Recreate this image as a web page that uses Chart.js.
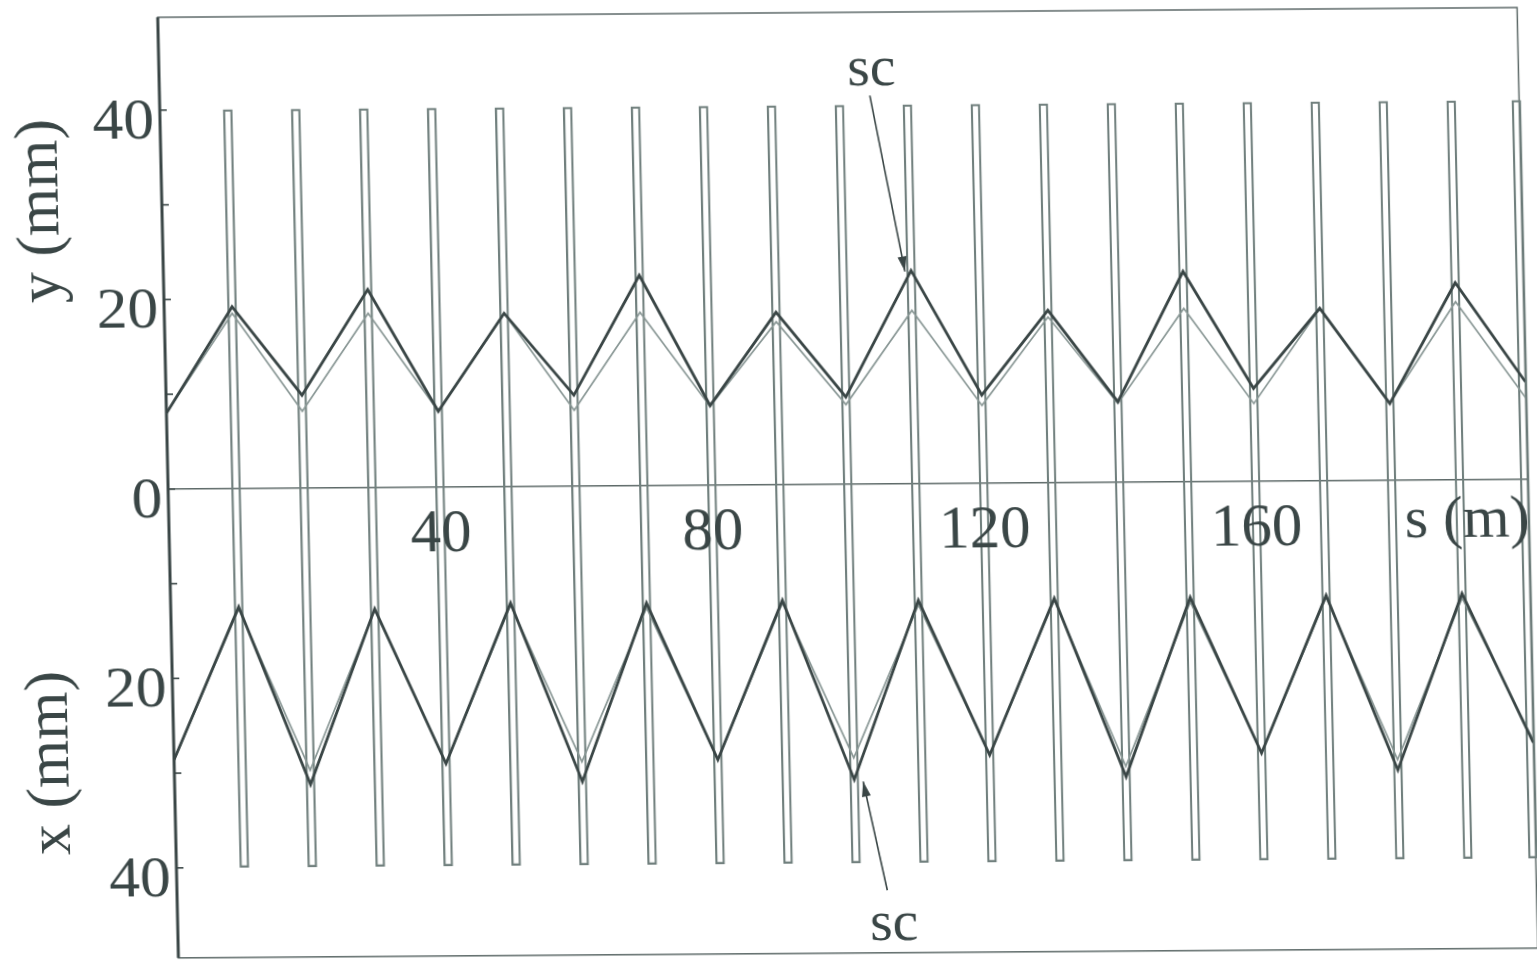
<!DOCTYPE html>
<html>
<head>
<meta charset="utf-8">
<title>FODO envelope</title>
<script src="https://cdn.jsdelivr.net/npm/chart.js@4.4.1/dist/chart.umd.min.js"></script>
<style>
  html, body { margin: 0; padding: 0; background: #fff; overflow: hidden; }
  /* the scanned figure is slightly skewed, mimic it */
  #env { display: block; transform-origin: 768.5px 480px; transform: matrix(1, -0.0072, 0.022, 1, 0, 0); }
</style>
</head>
<body>
<canvas id="env" width="1537" height="960"></canvas>
<script>
const INK       = '#3a4646';
const INK_LIGHT = '#8a9896';
const QUAD      = '#71807e';
const FRAME     = '#5e6a69';
const SERIF     = '"Liberation Serif", "DejaVu Serif", serif';

// s (m) of the envelope nodes (cusps at the quadrupoles)
const sNodes  = [0, 10, 20, 30, 40, 50, 60, 70, 80, 90, 100, 110, 120, 130, 140, 150, 160, 170, 180, 190, 200];
// quadrupole centres (m) and their drawn extent (mm)
const quadPos  = [10, 20, 30, 40, 50, 60, 70, 80, 90, 100, 110, 120, 130, 140, 150, 160, 170, 180, 190, 199.6];
const quadSpan = [-40, 40];

// vertical envelope y (mm), with and without space charge
const ySc   = [8.0, 19.2, 9.8, 20.9, 8.0, 18.3, 9.6, 22.2, 8.4, 18.2, 9.2, 22.5, 9.3, 18.2, 8.5, 22.2, 9.8, 18.2, 8.1, 20.8, 10.3];
const yNoSc = [8.0, 18.5, 8.1, 18.4, 8.0, 18.3, 8.0, 18.3, 8.3, 17.2, 8.4, 18.3, 8.2, 17.5, 8.3, 18.3, 8.2, 18.2, 8.1, 18.8, 8.6];
// horizontal envelope x (mm), drawn downwards
const xSc   = [28.6, 12.5, 31.3, 12.8, 29.2, 12.3, 31.2, 12.4, 29.0, 12.2, 31.2, 12.3, 28.7, 12.2, 31.1, 12.2, 28.7, 12.1, 30.6, 12.0, 27.8];
const xNoSc = [28.6, 12.7, 29.8, 12.9, 29.2, 12.5, 29.1, 12.9, 29.0, 12.5, 28.9, 12.8, 28.7, 12.4, 30.0, 12.7, 28.7, 12.3, 29.5, 12.5, 27.5];

// axis ticks
const yTickMarks  = [40, 30, 20, 10, 0, -10, -20, -30, -40];
const yTickLabels = [40, 20, 0, -20, -40];
const sTickLabels = [40, 80, 120, 160];

const pts = (vals, sign) => vals.map((v, i) => ({ x: sNodes[i], y: sign * v }));

function line(ctx, x1, y1, x2, y2) {
  ctx.beginPath(); ctx.moveTo(x1, y1); ctx.lineTo(x2, y2); ctx.stroke();
}

function arrow(ctx, x1, y1, x2, y2) {
  line(ctx, x1, y1, x2, y2);
  const ang = Math.atan2(y2 - y1, x2 - x1), len = 15, w = 4.5;
  ctx.save();
  ctx.translate(x2, y2); ctx.rotate(ang);
  ctx.beginPath(); ctx.moveTo(0, 0); ctx.lineTo(-len, -w); ctx.lineTo(-len, w); ctx.closePath(); ctx.fill();
  ctx.restore();
}

function stretched(ctx, txt, x, y, sx) {
  ctx.save(); ctx.translate(x, y); ctx.scale(sx, 1); ctx.fillText(txt, 0, 0); ctx.restore();
}

const decor = {
  id: 'decor',
  beforeDatasetsDraw(chart) {
    const { ctx, chartArea: a, scales: { x, y } } = chart;
    ctx.save();
    ctx.strokeStyle = FRAME;
    ctx.lineWidth = 1.5;
    ctx.strokeRect(a.left, a.top, a.right - a.left, a.bottom - a.top);
    const y0 = y.getPixelForValue(0);
    line(ctx, a.left, y0, a.right, y0);
    ctx.strokeStyle = INK;
    ctx.lineWidth = 3;
    line(ctx, a.left, a.top, a.left, a.bottom);
    ctx.lineWidth = 1.6;
    yTickMarks.forEach(v => { const p = y.getPixelForValue(v); line(ctx, a.left, p, a.left + 7, p); });
    ctx.restore();
  },
  afterDraw(chart) {
    const { ctx, chartArea: a, scales: { x, y } } = chart;
    const y0 = y.getPixelForValue(0);
    ctx.save();
    ctx.fillStyle = INK;
    ctx.strokeStyle = INK;

    // y tick labels (absolute values)
    ctx.font = '56px ' + SERIF;
    ctx.textAlign = 'right';
    ctx.textBaseline = 'alphabetic';
    yTickLabels.forEach(v => stretched(ctx, String(Math.abs(v)), a.left - 6, y.getPixelForValue(v) + 28, 1.1));

    // s tick labels, inside the plot under the zero line
    ctx.font = '61px ' + SERIF;
    ctx.textAlign = 'center';
    sTickLabels.forEach(v => ctx.fillText(String(v), x.getPixelForValue(v), y0 + 64));
    ctx.font = '60px ' + SERIF;
    ctx.fillText('s (m)', x.getPixelForValue(191), y0 + 57);

    // axis titles
    ctx.font = '62px ' + SERIF;
    ctx.textBaseline = 'middle';
    [['y (mm)', a.left - 120, 206], ['x (mm)', a.left - 122, 758]].forEach(([t, cx, cy]) => {
      ctx.save(); ctx.translate(cx, cy); ctx.rotate(-Math.PI / 2); ctx.fillText(t, 0, 0); ctx.restore();
    });

    // "sc" annotations
    ctx.font = '58px ' + SERIF;
    ctx.textBaseline = 'alphabetic';
    ctx.fillText('sc', x.getPixelForValue(104.8), y.getPixelForValue(42.1));
    ctx.fillText('sc', x.getPixelForValue(105.4), y.getPixelForValue(-48.1));
    ctx.lineWidth = 1.6;
    arrow(ctx, x.getPixelForValue(104.5), y.getPixelForValue(41.0), x.getPixelForValue(109.1), y.getPixelForValue(22.4));
    arrow(ctx, x.getPixelForValue(104.5), y.getPixelForValue(-42.9), x.getPixelForValue(101.3), y.getPixelForValue(-31.4));
    ctx.restore();
  }
};

new Chart(document.getElementById('env').getContext('2d'), {
  type: 'line',
  data: {
    datasets: [
      { label: 'y, sc',    data: pts(ySc, 1),   borderColor: INK,       borderWidth: 2.8, order: 1 },
      { label: 'y',        data: pts(yNoSc, 1), borderColor: INK_LIGHT, borderWidth: 1.7, order: 2 },
      { label: 'x, sc',    data: pts(xSc, -1),  borderColor: INK,       borderWidth: 2.8, order: 1 },
      { label: 'x',        data: pts(xNoSc, -1),borderColor: INK_LIGHT, borderWidth: 1.7, order: 2 },
      { type: 'bar', label: 'quadrupoles', data: quadPos.map(s => ({ x: s, y: quadSpan })),
        backgroundColor: 'rgba(255,255,255,0)', borderColor: QUAD, borderWidth: 1.6,
        borderSkipped: false, barThickness: 9, clip: false, order: 5 }
    ]
  },
  options: {
    responsive: false,
    animation: false,
    devicePixelRatio: 1,
    layout: { padding: { left: 168, right: 9.6, top: 13, bottom: 6.2 } },
    plugins: { legend: { display: false }, tooltip: { enabled: false } },
    elements: { point: { radius: 0 }, line: { tension: 0, fill: false } },
    scales: {
      x: { type: 'linear', min: 0, max: 200, offset: false, display: false },
      y: { type: 'linear', min: -49.5, max: 49.8, display: false }
    }
  },
  plugins: [decor]
});
</script>
</body>
</html>
